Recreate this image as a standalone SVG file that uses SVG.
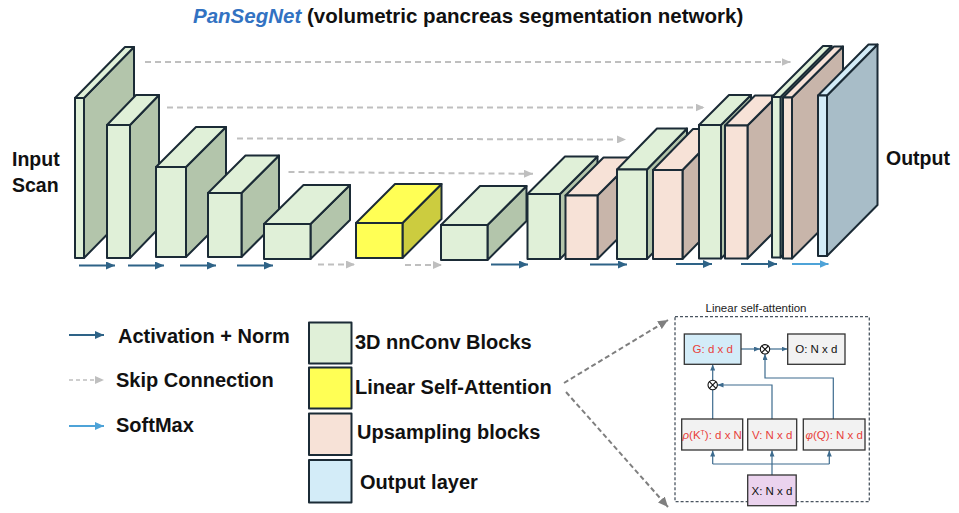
<svg xmlns="http://www.w3.org/2000/svg" width="959" height="513" viewBox="0 0 959 513">
<style>
.t{font-family:"Liberation Sans",Arial,sans-serif;font-weight:bold;fill:#111}
.pt{font-family:"Liberation Sans",Arial,sans-serif;font-size:11.5px;text-anchor:middle}
.blk path,.blk rect{stroke:#1B2B36;stroke-width:2;stroke-linejoin:round}
.g .f{fill:#E0F0D8}.g .s{fill:#B3C5AB}
.p .f{fill:#F7E2D7}.p .s{fill:#C8B5AA}
.y .f{fill:#FFFF55}.y .s{fill:#CCCC3F}
.b .f{fill:#D3ECF8}.b .s{fill:#A8BDC8}
.skip{stroke:#BFBFBF;stroke-width:2;stroke-dasharray:6 4;fill:none}
.act{stroke:#2E6387;stroke-width:2;fill:none}
.sm{stroke:#4EA3D8;stroke-width:2;fill:none}
.pc{stroke:#3D6B8E;stroke-width:1.2;fill:none}
.pb{stroke:#333;stroke-width:1.3}
</style>
<defs>
<marker id="mA" markerUnits="userSpaceOnUse" markerWidth="9" markerHeight="8" refX="9" refY="4" orient="auto"><path d="M0,0 L9,4 L0,8 z" fill="#2E6387"/></marker>
<marker id="mG" markerUnits="userSpaceOnUse" markerWidth="9" markerHeight="8" refX="9" refY="4" orient="auto"><path d="M0,0 L9,4 L0,8 z" fill="#BFBFBF"/></marker>
<marker id="mL" markerUnits="userSpaceOnUse" markerWidth="9" markerHeight="8" refX="9" refY="4" orient="auto"><path d="M0,0 L9,4 L0,8 z" fill="#4EA3D8"/></marker>
<marker id="mP" markerUnits="userSpaceOnUse" markerWidth="10" markerHeight="9" refX="10" refY="4.5" orient="auto"><path d="M0,0 L10,4.5 L0,9 z" fill="#7F7F7F"/></marker>
<marker id="mS" markerUnits="userSpaceOnUse" markerWidth="6" markerHeight="5" refX="6" refY="2.5" orient="auto"><path d="M0,0 L6,2.5 L0,5 z" fill="#3D6B8E"/></marker>
</defs>
<rect width="959" height="513" fill="#fff"/>

<text class="t" x="193" y="23" font-size="20.5"><tspan fill="#3272C2" font-style="italic">PanSegNet</tspan> (volumetric pancreas segmentation network)</text>

<text class="t" font-size="19.5" x="12" y="166">Input</text>
<text class="t" font-size="19.5" x="12" y="192">Scan</text>
<text class="t" font-size="19.5" x="886" y="165">Output</text>

<!-- network blocks -->
<g id="enc1" class="blk g"><path class="s" d="M84,98 L134,47 L134,207 L84,258 Z"/><path class="f" d="M75,98 L125,47 L134,47 L84,98 Z"/><rect class="f" x="75" y="98" width="9" height="160"/></g>
<g id="enc2" class="blk g"><path class="s" d="M130,125 L159,95 L159,228 L130,258 Z"/><path class="f" d="M107,125 L136,95 L159,95 L130,125 Z"/><rect class="f" x="107" y="125" width="23" height="133"/></g>
<g id="enc3" class="blk g"><path class="s" d="M186,167 L226,127 L226,217 L186,257 Z"/><path class="f" d="M156,167 L196,127 L226,127 L186,167 Z"/><rect class="f" x="156" y="167" width="30" height="90"/></g>
<g id="enc4" class="blk g"><path class="s" d="M241.5,193 L279,155.5 L279,219.5 L241.5,257 Z"/><path class="f" d="M208,193 L245.5,155.5 L279,155.5 L241.5,193 Z"/><rect class="f" x="208" y="193" width="33.5" height="64"/></g>
<g id="enc5" class="blk g"><path class="s" d="M310.5,224 L350,185 L350,220 L310.5,259 Z"/><path class="f" d="M264,224 L303.5,185 L350,185 L310.5,224 Z"/><rect class="f" x="264" y="224" width="46.5" height="35"/></g>
<g id="attn" class="blk y"><path class="s" d="M402.5,223 L441.5,184 L441.5,219 L402.5,258 Z"/><path class="f" d="M356,223 L395,184 L441.5,184 L402.5,223 Z"/><rect class="f" x="356" y="223" width="46.5" height="35"/></g>
<g id="dec1" class="blk g"><path class="s" d="M487.5,225 L526.5,186 L526.5,221 L487.5,260 Z"/><path class="f" d="M441,225 L480,186 L526.5,186 L487.5,225 Z"/><rect class="f" x="441" y="225" width="46.5" height="35"/></g>
<g id="dec2" class="blk g"><path class="s" d="M560,194 L597.5,156.5 L597.5,221.5 L560,259 Z"/><path class="f" d="M527.5,194 L565,156.5 L597.5,156.5 L560,194 Z"/><rect class="f" x="527.5" y="194" width="32.5" height="65"/></g>
<g id="up1" class="blk p"><path class="s" d="M597.5,195.5 L635.5,157.5 L635.5,221 L597.5,259 Z"/><path class="f" d="M565.5,195.5 L603.5,157.5 L635.5,157.5 L597.5,195.5 Z"/><rect class="f" x="565.5" y="195.5" width="32" height="63.5"/></g>
<g id="dec3" class="blk g"><path class="s" d="M647,169.5 L687,128.5 L687,218 L647,259 Z"/><path class="f" d="M617,169.5 L657,128.5 L687,128.5 L647,169.5 Z"/><rect class="f" x="617" y="169.5" width="30" height="89.5"/></g>
<g id="up2" class="blk p"><path class="s" d="M682.5,170 L722.5,129 L722.5,218 L682.5,259 Z"/><path class="f" d="M653,170 L693,129 L722.5,129 L682.5,170 Z"/><rect class="f" x="653" y="170" width="29.5" height="89"/></g>
<g id="dec4" class="blk g"><path class="s" d="M721,125 L751,95 L751,228.5 L721,258.5 Z"/><path class="f" d="M699,125 L729,95 L751,95 L721,125 Z"/><rect class="f" x="699" y="125" width="22" height="133.5"/></g>
<g id="up3" class="blk p"><path class="s" d="M747.5,125.5 L777.5,95.5 L777.5,228.5 L747.5,258.5 Z"/><path class="f" d="M725,125.5 L755,95.5 L777.5,95.5 L747.5,125.5 Z"/><rect class="f" x="725" y="125.5" width="22.5" height="133"/></g>
<g id="dec5" class="blk g"><path class="s" d="M780.5,97 L831.5,46 L831.5,206.5 L780.5,257.5 Z"/><path class="f" d="M772,97 L823,46 L831.5,46 L780.5,97 Z"/><rect class="f" x="772" y="97" width="8.5" height="160.5"/></g>
<g id="up4" class="blk p"><path class="s" d="M792,97.5 L843,46.5 L843,207.5 L792,258.5 Z"/><path class="f" d="M783,97.5 L834,46.5 L843,46.5 L792,97.5 Z"/><rect class="f" x="783" y="97.5" width="9" height="161"/></g>
<g id="out" class="blk b"><path class="s" d="M827,95.5 L877.5,44.5 L877.5,205 L827,256 Z"/><path class="f" d="M818,95.5 L868.5,44.5 L877.5,44.5 L827,95.5 Z"/><rect class="f" x="818" y="95.5" width="9" height="160.5"/></g>

<g id="connectors">
<path class="skip" marker-end="url(#mG)" d="M145,62 L790.5,62"/>
<path class="skip" marker-end="url(#mG)" d="M167,107.5 L704.5,107.5"/>
<path class="skip" marker-end="url(#mG)" d="M237,138.5 L626,139.5"/>
<path class="skip" marker-end="url(#mG)" d="M288.5,172 L533,173.8"/>
<path class="act" marker-end="url(#mA)" d="M79,265.5 L115,265.5"/>
<path class="act" marker-end="url(#mA)" d="M128,265.5 L164,265.5"/>
<path class="act" marker-end="url(#mA)" d="M180,265.5 L216,265.5"/>
<path class="act" marker-end="url(#mA)" d="M237,265.5 L273,265.5"/>
<path class="skip" marker-end="url(#mG)" d="M318,264.5 L355,264.5"/>
<path class="skip" marker-end="url(#mG)" d="M405,265 L442,265"/>
<path class="act" marker-end="url(#mA)" d="M491,264.5 L528,264.5"/>
<path class="act" marker-end="url(#mA)" d="M590,264.5 L627,264.5"/>
<path class="act" marker-end="url(#mA)" d="M676,264 L712,264"/>
<path class="act" marker-end="url(#mA)" d="M741,264 L777,264"/>
<path class="sm" marker-end="url(#mL)" d="M792,264 L828.5,264"/>
<!-- pointers to attention detail -->
<path d="M564,383 L668,320" stroke="#7F7F7F" stroke-width="2" stroke-dasharray="5 3" fill="none" marker-end="url(#mP)"/>
<path d="M566,392 L668,507" stroke="#7F7F7F" stroke-width="2" stroke-dasharray="5 3" fill="none" marker-end="url(#mP)"/>
<!-- attention detail connectors -->
<path class="pc" marker-end="url(#mS)" d="M741,349 L760,349"/>
<path class="pc" marker-end="url(#mS)" d="M769.7,349 L787.5,349"/>
<path class="pc" marker-end="url(#mS)" d="M712.7,380.3 L712.7,364.5"/>
<path class="pc" d="M712.7,419 L712.7,389.7"/>
<path class="pc" marker-end="url(#mS)" d="M772,419 L772,385 L717.5,385"/>
<path class="pc" marker-end="url(#mS)" d="M833.3,419 L833.3,378 L765,378 L765,354"/>
<path class="pc" marker-end="url(#mS)" d="M772,475 L772,450.5"/>
<path class="pc" d="M712.7,464 L829.3,464"/>
<path class="pc" marker-end="url(#mS)" d="M712.7,464 L712.7,450.5"/>
<path class="pc" marker-end="url(#mS)" d="M829.3,464 L829.3,450.5"/>
</g>

<!-- legend -->
<g id="legend-lines">
<path class="act" marker-end="url(#mA)" d="M69,335 L104,335"/>
<text class="t" font-size="20" x="118" y="343">Activation + Norm</text>
<path class="skip" marker-end="url(#mG)" d="M69,380 L104,380" style="stroke-width:1.5;stroke-dasharray:4 3"/>
<text class="t" font-size="20" x="116" y="387">Skip Connection</text>
<path class="sm" marker-end="url(#mL)" d="M69,426 L104,426"/>
<text class="t" font-size="20" x="116" y="432">SoftMax</text>
</g>
<g id="legend-boxes" class="blk">
<g class="g"><rect class="f" x="309" y="322.5" width="42.5" height="41"/></g>
<g class="y"><rect class="f" x="309" y="367.5" width="42.5" height="41"/></g>
<g class="p"><rect class="f" x="309" y="413.5" width="42.5" height="41.5"/></g>
<g class="b"><rect class="f" x="309" y="460" width="42.5" height="42.5"/></g>
</g>
<text class="t" font-size="20" x="355" y="349">3D nnConv Blocks</text>
<text class="t" font-size="20" x="355" y="394">Linear Self-Attention</text>
<text class="t" font-size="20" x="357" y="439">Upsampling blocks</text>
<text class="t" font-size="20" x="360" y="488.5">Output layer</text>

<!-- linear self-attention detail -->
<g id="lsa-frame">
<rect x="675" y="316.7" width="194.3" height="185" fill="none" stroke="#4A5560" stroke-width="1.3" stroke-dasharray="3 2"/>
<text x="705.5" y="311.5" font-family="'Liberation Sans',Arial,sans-serif" font-size="11.5" fill="#222">Linear self-attention</text>
</g>
<g id="G"><rect class="pb" x="684.3" y="334" width="56.7" height="30.3" fill="#D3ECF8"/><text class="pt" x="712.7" y="353" fill="#E8413B">G: d x d</text></g>
<g id="O"><rect class="pb" x="787.7" y="334" width="57.3" height="30.3" fill="#F2F2F2"/><text class="pt" x="816.3" y="353" fill="#111">O: N x d</text></g>
<g id="mul1"><circle cx="765" cy="349.3" r="4.7" fill="#fff" stroke="#111" stroke-width="1.1"/><path d="M761.7,346 L768.3,352.6 M768.3,346 L761.7,352.6" stroke="#111" stroke-width="1.1"/></g>
<g id="mul2"><circle cx="712.7" cy="385" r="4.7" fill="#fff" stroke="#111" stroke-width="1.1"/><path d="M709.4,381.7 L716,388.3 M716,381.7 L709.4,388.3" stroke="#111" stroke-width="1.1"/></g>
<g id="K"><rect class="pb" x="681.7" y="419" width="61" height="31" fill="#F2F2F2"/><text class="pt" x="712.2" y="438.5" fill="#E8413B"><tspan font-style="italic">ρ</tspan>(K<tspan font-size="7" dy="-4">T</tspan><tspan dy="4">): d x N</tspan></text></g>
<g id="V"><rect class="pb" x="747.7" y="419" width="49" height="31" fill="#F2F2F2"/><text class="pt" x="772.2" y="438.5" fill="#E8413B">V: N x d</text></g>
<g id="Q"><rect class="pb" x="803.3" y="419" width="61.7" height="31" fill="#F2F2F2"/><text class="pt" x="834.2" y="438.5" fill="#E8413B"><tspan font-style="italic">φ</tspan>(Q): N x d</text></g>
<g id="X"><rect class="pb" x="747.7" y="475" width="48.5" height="30.7" fill="#EBD3EE"/><text class="pt" x="772" y="494.5" fill="#111">X: N x d</text></g>
</svg>
